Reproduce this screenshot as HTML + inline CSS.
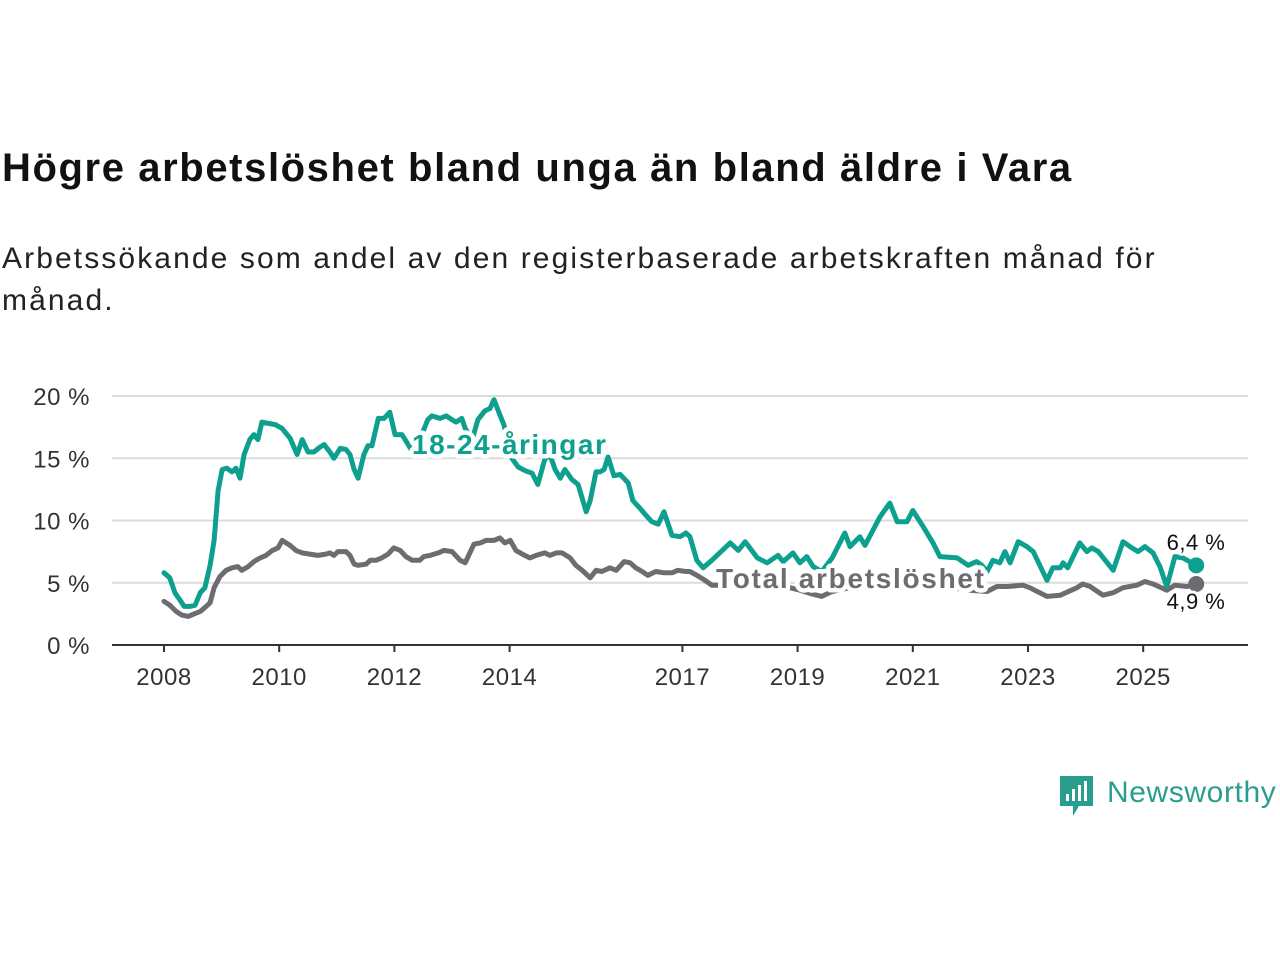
<!DOCTYPE html>
<html><head><meta charset="utf-8">
<style>
body{margin:0;background:#fff;width:1280px;height:960px;overflow:hidden;font-family:"Liberation Sans",sans-serif;}
#title{position:absolute;left:2px;top:146px;font-size:40px;font-weight:bold;color:#111;margin:0;letter-spacing:1.6px}
#sub{position:absolute;left:2px;top:238px;font-size:30px;color:#222;line-height:42px;width:1240px;letter-spacing:2.1px}
svg{position:absolute;left:0;top:0}
</style></head><body>
<h1 id="title">Högre arbetslöshet bland unga än bland äldre i Vara</h1>
<div id="sub">Arbetssökande som andel av den registerbaserade arbetskraften månad för<br>månad.</div>
<svg id="chart" width="1280" height="960"></svg>
<script>
const yTicks=[0,5,10,15,20];
const xTickYears=[2008,2010,2012,2014,2017,2019,2021,2023,2025];
const youthYearsSince2008=[0.00,0.10,0.19,0.28,0.35,0.45,0.54,0.63,0.71,0.80,0.87,0.94,1.01,1.09,1.18,1.25,1.32,1.39,1.49,1.56,1.63,1.70,1.81,1.93,2.05,2.19,2.31,2.40,2.50,2.60,2.71,2.78,2.88,2.95,3.06,3.16,3.23,3.30,3.37,3.47,3.54,3.61,3.72,3.82,3.92,4.01,4.13,4.24,4.34,4.44,4.58,4.65,4.79,4.90,5.00,5.07,5.17,5.23,5.35,5.45,5.57,5.66,5.73,5.83,5.90,5.97,6.04,6.15,6.27,6.39,6.49,6.61,6.70,6.79,6.88,6.96,7.08,7.19,7.33,7.40,7.50,7.57,7.64,7.71,7.81,7.92,8.06,8.14,8.26,8.37,8.47,8.58,8.68,8.82,8.96,9.06,9.13,9.25,9.36,9.51,9.83,9.97,10.09,10.30,10.47,10.66,10.75,10.92,11.04,11.16,11.27,11.42,11.60,11.82,11.91,12.08,12.17,12.43,12.60,12.73,12.90,13.00,13.18,13.35,13.47,13.77,13.96,14.11,14.20,14.29,14.39,14.51,14.60,14.69,14.83,14.98,15.09,15.33,15.43,15.56,15.61,15.69,15.90,16.02,16.11,16.22,16.48,16.65,16.77,16.91,17.03,17.17,17.29,17.41,17.55,17.69,17.92];
const youthValues=[5.8,5.4,4.2,3.6,3.1,3.1,3.2,4.2,4.6,6.4,8.4,12.4,14.1,14.2,13.9,14.2,13.4,15.3,16.5,16.9,16.5,17.9,17.8,17.7,17.4,16.6,15.3,16.5,15.5,15.5,15.9,16.1,15.5,15.0,15.8,15.7,15.3,14.1,13.4,15.3,16.0,16.0,18.2,18.2,18.7,16.9,16.9,16.1,15.3,16.5,18.1,18.4,18.2,18.4,18.1,17.9,18.2,17.4,16.5,18.1,18.8,19.0,19.7,18.5,17.7,16.5,15.0,14.3,14.0,13.8,12.9,14.9,15.3,14.1,13.4,14.1,13.3,12.9,10.7,11.6,13.9,13.9,14.1,15.1,13.6,13.7,13.0,11.6,11.0,10.4,9.9,9.7,10.7,8.8,8.7,9.0,8.7,6.8,6.2,6.8,8.2,7.6,8.3,7.0,6.6,7.2,6.7,7.4,6.6,7.1,6.3,5.9,7.0,9.0,7.9,8.7,8.0,10.3,11.4,9.9,9.9,10.8,9.5,8.2,7.1,7.0,6.4,6.7,6.4,5.9,6.8,6.6,7.5,6.6,8.3,7.9,7.5,5.2,6.2,6.2,6.6,6.2,8.2,7.5,7.8,7.5,6.0,8.3,7.9,7.5,7.9,7.4,6.3,4.7,7.1,7.0,6.4];
const totalYearsSince2008=[0.00,0.10,0.21,0.31,0.42,0.52,0.63,0.71,0.80,0.87,0.97,1.08,1.18,1.28,1.35,1.46,1.56,1.67,1.77,1.88,1.98,2.05,2.19,2.29,2.40,2.53,2.67,2.81,2.88,2.95,3.02,3.16,3.23,3.30,3.37,3.51,3.58,3.68,3.78,3.89,3.99,4.10,4.20,4.31,4.44,4.51,4.62,4.76,4.86,5.00,5.14,5.23,5.38,5.49,5.59,5.73,5.83,5.92,6.01,6.11,6.22,6.35,6.46,6.61,6.70,6.81,6.91,7.05,7.15,7.26,7.40,7.50,7.60,7.74,7.85,7.99,8.09,8.19,8.30,8.40,8.54,8.68,8.82,8.92,9.06,9.13,9.25,9.39,9.51,9.83,10.17,10.52,10.87,11.04,11.25,11.42,11.60,11.91,12.26,12.60,12.95,13.30,13.65,13.99,14.29,14.46,14.64,14.91,15.03,15.33,15.56,15.85,15.95,16.08,16.30,16.48,16.65,16.89,17.03,17.17,17.41,17.55,17.76,17.92];
const totalValues=[3.5,3.2,2.7,2.4,2.3,2.5,2.7,3.0,3.4,4.6,5.5,6.0,6.2,6.3,6.0,6.3,6.7,7.0,7.2,7.6,7.8,8.4,8.0,7.6,7.4,7.3,7.2,7.3,7.4,7.2,7.5,7.5,7.2,6.5,6.4,6.5,6.8,6.8,7.0,7.3,7.8,7.6,7.1,6.8,6.8,7.1,7.2,7.4,7.6,7.5,6.8,6.6,8.1,8.2,8.4,8.4,8.6,8.2,8.4,7.6,7.3,7.0,7.2,7.4,7.2,7.4,7.4,7.0,6.4,6.0,5.4,6.0,5.9,6.2,6.0,6.7,6.6,6.2,5.9,5.6,5.9,5.8,5.8,6.0,5.9,5.9,5.6,5.2,4.8,4.8,4.7,4.6,4.6,4.4,4.1,3.9,4.3,4.6,4.7,4.8,4.8,4.7,4.6,4.4,4.3,4.7,4.7,4.8,4.6,3.9,4.0,4.6,4.9,4.7,4.0,4.2,4.6,4.8,5.1,4.9,4.4,4.8,4.7,4.9];

const NS="http://www.w3.org/2000/svg";
const svg=document.getElementById('chart');
const x=yr=>164+(yr-2008)*57.6;
const y=v=>645-v*12.45;
function mk(tag,attrs,parent){const e=document.createElementNS(NS,tag);for(const k in attrs)e.setAttribute(k,attrs[k]);(parent||svg).appendChild(e);return e;}

yTicks.forEach(t=>{
  if(t>0){const g=mk('line',{x1:112,x2:1248,y1:y(t),y2:y(t),stroke:'#dcdcdc','stroke-width':2});
  
  }
  const l=mk('text',{x:90,y:y(t)+9,'text-anchor':'end','font-size':24,fill:'#333','font-family':'Liberation Sans, sans-serif','letter-spacing':0.5});
  l.textContent=t+' %';
  
  
});
const ax=mk('line',{x1:112,x2:1248,y1:645,y2:645,stroke:'#333','stroke-width':2});


xTickYears.forEach(yr=>{
  const tk=mk('line',{x1:x(yr),x2:x(yr),y1:645,y2:652,stroke:'#333','stroke-width':2});
  
  
  const l=mk('text',{x:x(yr),y:685,'text-anchor':'middle','font-size':24,fill:'#333','font-family':'Liberation Sans, sans-serif','letter-spacing':0.5});
  l.textContent=yr;
  
  
});
function line(ds,vs,color,name){
  const d=ds.map((t,i)=>(i?'L':'M')+x(2008+t).toFixed(1)+','+y(vs[i]).toFixed(1)).join('');
  const p=mk('path',{d:d,fill:'none',stroke:color,'stroke-width':5,'stroke-linejoin':'round','stroke-linecap':'round'});
  
  
  const n=ds.length-1;
  const c=mk('circle',{cx:x(2008+ds[n]),cy:y(vs[n]),r:8,fill:color});
  
  
}
line(totalYearsSince2008,totalValues,'#6d6c70','total-line');
line(youthYearsSince2008,youthValues,'#0ea08f','youth-line');
function lab(txt,xx,yy,col,size,bold,name,anchor,ls){
  const t=mk('text',{x:xx,y:yy,'font-size':size,'font-weight':bold?'bold':'normal',fill:col,stroke:'#fff','stroke-width':bold?9:6,'paint-order':'stroke','stroke-linejoin':'round','text-anchor':anchor||'start','font-family':'Liberation Sans, sans-serif','letter-spacing':ls||0});
  t.textContent=txt;
  
  
}
lab('18-24-åringar',412,454,'#0ea08f',28,true,'youth-series-label','start',1.5);
lab('Total arbetslöshet',716,588,'#6d6c70',28,true,'total-series-label','start',1.7);
lab('6,4 %',1196,550,'#111',22,false,'youth-end-value','middle',0.5);
lab('4,9 %',1196,609,'#111',22,false,'total-end-value','middle',0.5);
</script>
<svg width="1280" height="960" style="position:absolute;left:0;top:0">
<path d="M1060 776 h33 v30 h-14 l-6 10 v-10 h-13 z" fill="#2a9e8e"/>
<rect x="1066" y="794" width="3" height="7" fill="#fff"/><rect x="1072" y="789" width="3" height="12" fill="#fff"/><rect x="1078" y="785" width="3" height="16" fill="#fff"/><rect x="1084" y="781" width="3" height="20" fill="#fff"/>
<text x="1107" y="802" font-size="30" fill="#2a9e8e" font-family="Liberation Sans, sans-serif" letter-spacing="0.6">Newsworthy</text>
</svg>
</body></html>
